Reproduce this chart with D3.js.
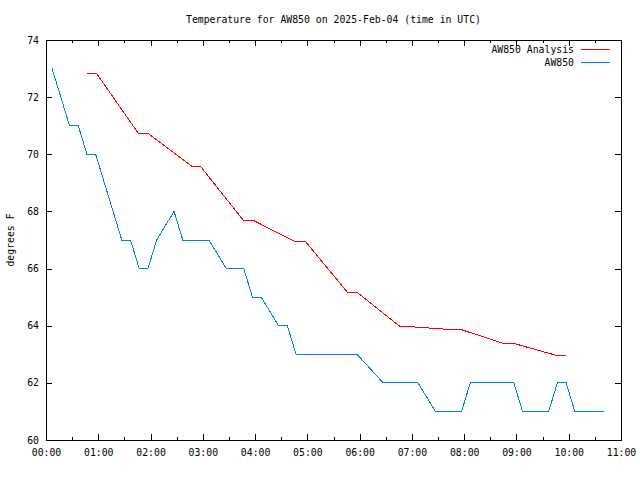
<!DOCTYPE html>
<html>
<head>
<meta charset="utf-8">
<script src="https://cdn.jsdelivr.net/npm/d3@7"></script>
<style>
  html, body { margin: 0; padding: 0; background: #fff; }
  svg { display: block; }
  text { font-family: "DejaVu Sans Mono", "Liberation Mono", monospace; font-size: 9.8px; fill: #000; }
</style>
</head>
<body>
<svg id="chart" width="640" height="480"></svg>
<script>
// ---- data (time in minutes after 00:00 UTC, temperature in °F) ----
const analysisTimes  = [47, 58, 106, 117, 167, 177, 227, 239, 286, 298, 346, 357, 406, 417, 467, 478, 525, 537, 586, 597];
const analysisValues = [72.83, 72.83, 70.73, 70.73, 69.59, 69.59, 67.67, 67.67, 66.94, 66.94, 65.17, 65.17, 63.98, 63.97, 63.86, 63.85, 63.38, 63.38, 62.96, 62.96];

const obsTimes  = [7, 27, 37, 47, 57, 87, 97, 107, 117, 127, 147, 157, 187, 207, 227, 237, 247, 267, 277, 287, 357, 387, 427, 447, 477, 487, 537, 547, 577, 587, 597, 607, 641];
const obsValues = [73, 71, 71, 70, 70, 67, 67, 66, 66, 67, 68, 67, 67, 66, 66, 65, 65, 64, 64, 63, 63, 62, 62, 61, 61, 62, 62, 61, 61, 62, 62, 61, 61];

const xMajorTicks = [0, 60, 120, 180, 240, 300, 360, 420, 480, 540, 600, 660];
const xMinorTicks = [30, 90, 150, 210, 270, 330, 390, 450, 510, 570, 630];
const yTicks = [60, 62, 64, 66, 68, 70, 72, 74];

const seriesNames  = ["AW850 Analysis", "AW850"];
const seriesColors = ["#ff0000", "#0080ff"];
const titleText = "Temperature for AW850 on 2025-Feb-04 (time in UTC)";
const yLabel = "degrees F";

// ---- layout ----
const L = 46, R = 621, T = 40, B = 440;
const svg = d3.select("#chart");

const x = d3.scaleLinear().domain([0, 660]).range([L, R]);
const y = d3.scaleLinear().domain([60, 74]).range([B, T]);

const fmt = m => String(Math.floor(m / 60)).padStart(2, "0") + ":" + String(m % 60).padStart(2, "0");

// bottom axis (major, with labels)
svg.append("g").attr("transform", `translate(0,${B})`)
  .call(d3.axisBottom(x).tickValues(xMajorTicks).tickFormat(fmt).tickSize(-6).tickPadding(9));
// bottom minor
svg.append("g").attr("transform", `translate(0,${B})`)
  .call(d3.axisBottom(x).tickValues(xMinorTicks).tickFormat("").tickSize(-3));
// top major + minor
svg.append("g").attr("transform", `translate(0,${T})`)
  .call(d3.axisTop(x).tickValues(xMajorTicks).tickFormat("").tickSize(-6));
svg.append("g").attr("transform", `translate(0,${T})`)
  .call(d3.axisTop(x).tickValues(xMinorTicks).tickFormat("").tickSize(-3));
// left axis
svg.append("g").attr("transform", `translate(${L},0)`)
  .call(d3.axisLeft(y).tickValues(yTicks).tickFormat(d3.format("d")).tickSize(-6).tickPadding(7));
// right axis
svg.append("g").attr("transform", `translate(${R},0)`)
  .call(d3.axisRight(y).tickValues(yTicks).tickFormat("").tickSize(-6));

svg.selectAll(".domain").remove();
svg.selectAll(".tick line").attr("stroke", "#000").attr("shape-rendering", "crispEdges");
svg.selectAll(".tick text").attr("fill", "#000")
  .style("font-family", '"DejaVu Sans Mono", monospace').style("font-size", "9.8px");

// border
svg.append("rect")
  .attr("x", L + 0.5).attr("y", T + 0.5)
  .attr("width", R - L).attr("height", B - T)
  .attr("fill", "none").attr("stroke", "#000").attr("stroke-width", 1)
  .attr("shape-rendering", "crispEdges");

// lines
const line = d3.line().x(d => x(d[0])).y(d => y(d[1]));
const series = [
  d3.zip(analysisTimes, analysisValues),
  d3.zip(obsTimes, obsValues)
];
series.forEach((s, i) => {
  svg.append("path").datum(s)
    .attr("d", line)
    .attr("fill", "none")
    .attr("stroke", seriesColors[i])
    .attr("stroke-width", 1)
    .attr("shape-rendering", "crispEdges");
});

// legend
seriesNames.forEach((name, i) => {
  const ly = 49.5 + i * 13;
  svg.append("text").attr("x", 574).attr("y", ly + 0.5).attr("dy", "0.35em")
    .attr("text-anchor", "end").text(name);
  svg.append("line").attr("x1", 581).attr("x2", 610).attr("y1", ly).attr("y2", ly)
    .attr("stroke", seriesColors[i]).attr("stroke-width", 1)
    .attr("shape-rendering", "crispEdges");
});

// title
svg.append("text").attr("x", (L + R) / 2).attr("y", 23)
  .attr("text-anchor", "middle").text(titleText);

// y label
svg.append("text")
  .attr("transform", `translate(14,240) rotate(-90)`)
  .attr("text-anchor", "middle").text(yLabel);
</script>
</body>
</html>
